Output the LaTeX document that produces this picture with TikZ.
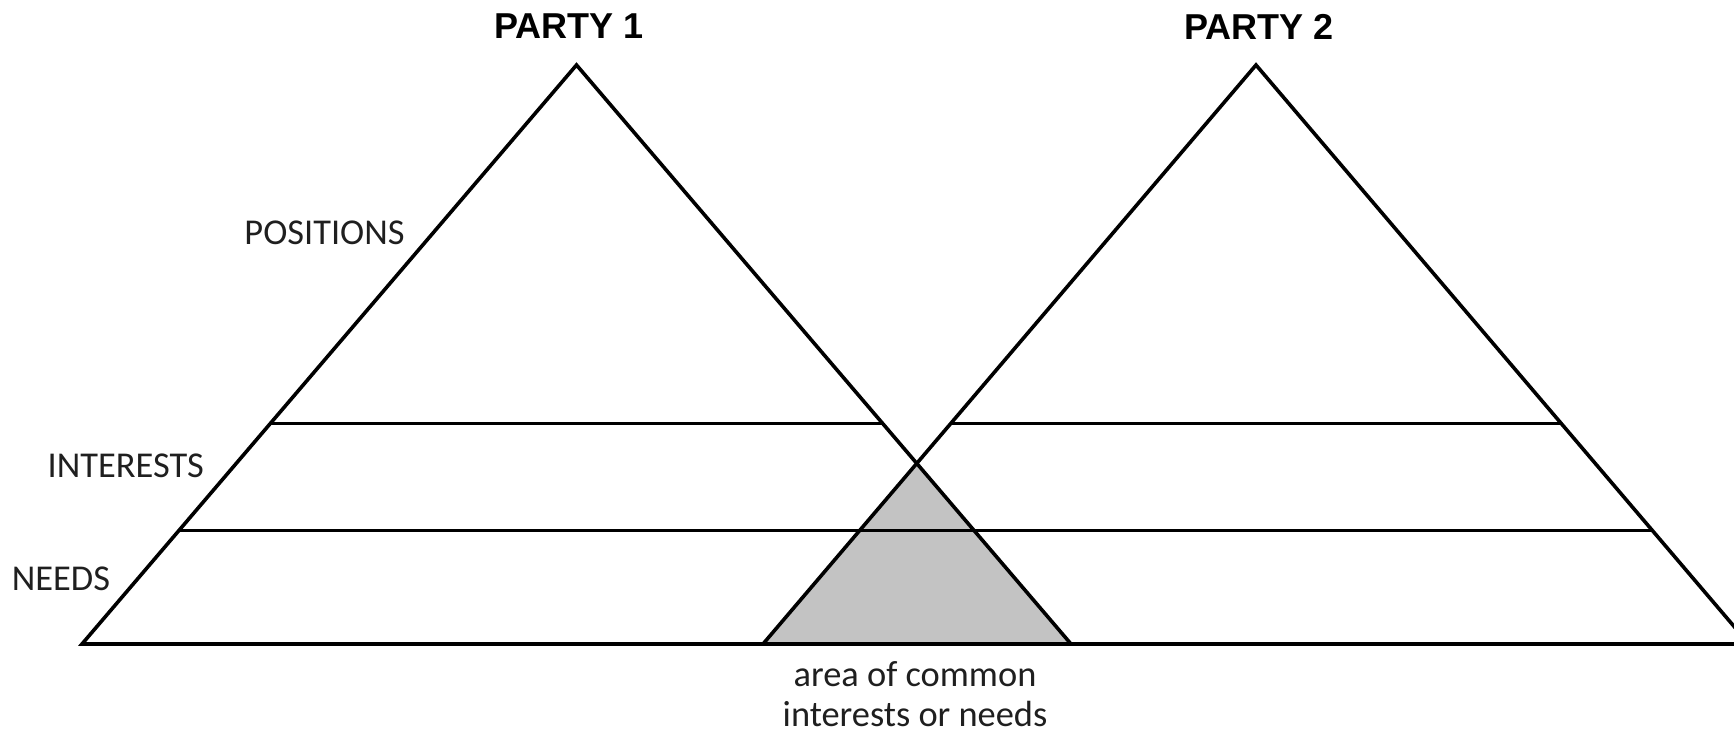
\documentclass[tikz,border=0pt]{standalone}
\usepackage{fontspec}
\setmainfont{Carlito}
\newfontfamily\partyfont{Liberation Sans}
\usetikzlibrary{calc}
\definecolor{commonfill}{RGB}{195,195,195}
\begin{document}
\begin{tikzpicture}[x=1pt,y=-1pt,
  edge/.style={line width=3.6pt, line join=miter},
  party/.style={font=\partyfont\bfseries\fontsize{36}{40}\selectfont, inner sep=0pt, anchor=base},
  level/.style={font=\fontsize{36.4}{40}\selectfont, inner sep=0pt, anchor=base, text=black!88},
]
\useasboundingbox (0,0) rectangle (1734,735);
\clip (0,0) rectangle (1734,735);

% corners of the two pyramids
\coordinate (A1) at (576.5,65);
\coordinate (L1) at (82,644);
\coordinate (R1) at (1071,644);
\coordinate (A2) at (1256,65);
\coordinate (L2) at (763,644);
\coordinate (R2) at (1749,644);
\coordinate (X) at (intersection of A1--R1 and A2--L2);

% shared region
\fill[commonfill] (X) -- (L2) -- (R1) -- cycle;

% pyramid outlines
\draw[edge] (L1) -- (A1) -- (R1) -- cycle;
\draw[edge] (L2) -- (A2) -- (R2) -- cycle;

% level dividers
\foreach \t in {0.619,0.804}{
  \draw[edge] ($(A1)!\t!(L1)$) -- ($(A1)!\t!(R1)$);
  \draw[edge] ($(A2)!\t!(L2)$) -- ($(A2)!\t!(R2)$);
}

% labels
\node[party] (p1) at (569,39) {PARTY 1};
\node[party] (p2) at (1259,40) {PARTY 2};
\node[level] (pos) at (324.5,244.3) {POSITIONS};
\node[level] (int) at (125.8,477.7) {INTERESTS};
\node[level] (need) at (61,590) {NEEDS};
\node[level] (c1) at (915,686.7) {area of common};
\node[level] (c2) at (915,726.7) {interests or needs};
\end{tikzpicture}
\end{document}
